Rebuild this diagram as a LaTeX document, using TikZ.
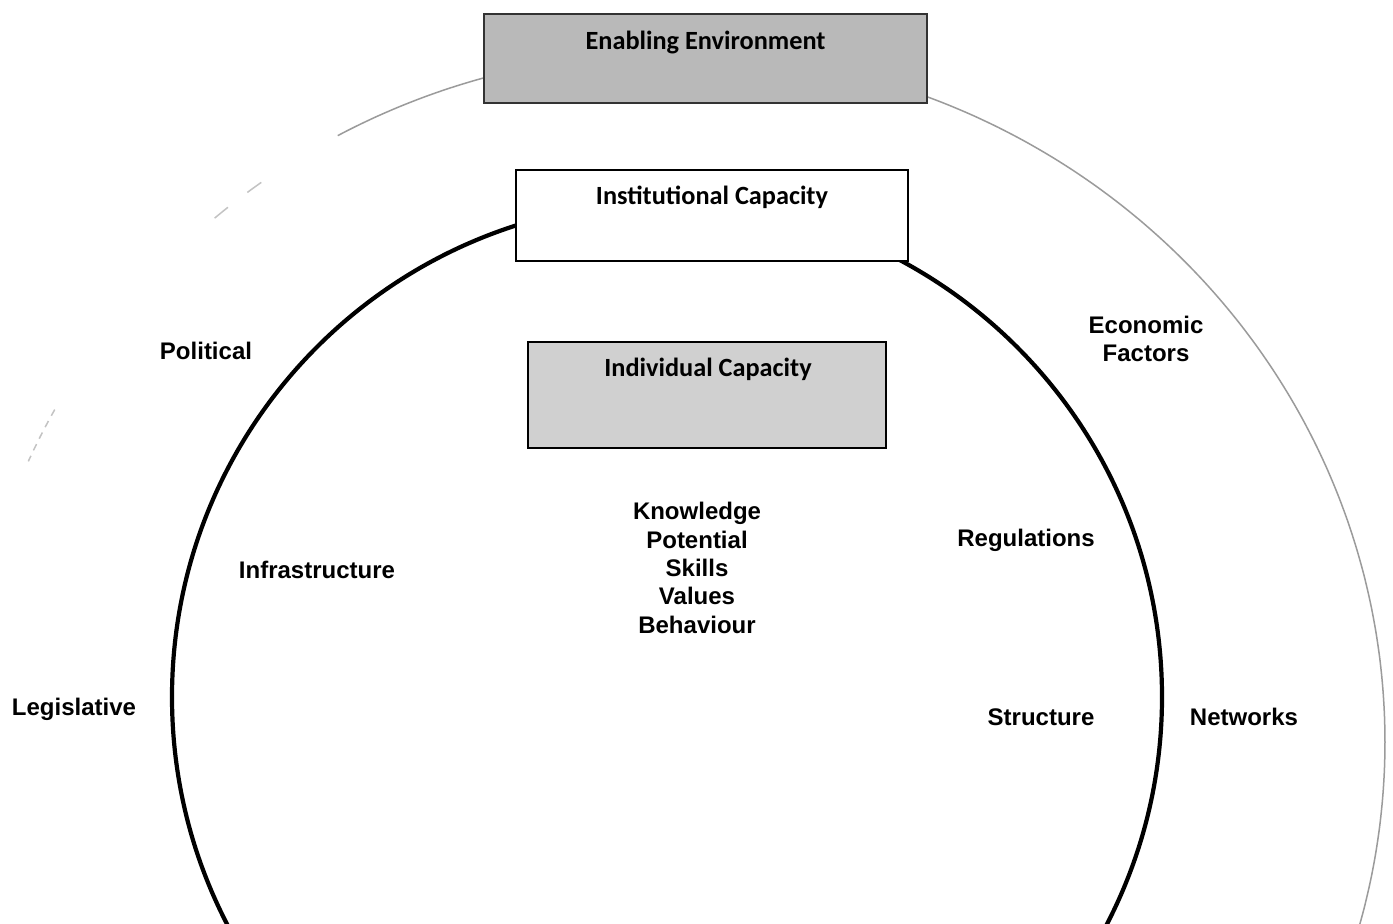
\documentclass[tikz,border=0pt]{standalone}
\usepackage{fontspec}
\setmainfont{Liberation Sans}
\newfontfamily\carl{Carlito}
\definecolor{envgray}{RGB}{185,185,185}
\definecolor{indgray}{RGB}{208,208,208}
\definecolor{ringgray}{RGB}{155,155,155}
\tikzset{
  lbl/.style={font=\fontsize{24}{28.3}\selectfont\bfseries, align=center, inner sep=0pt},
  boxtxt/.style={font=\carl\fontsize{26.3}{30}\selectfont\bfseries, inner sep=0pt},
  box/.style={draw=black, line width=1.6pt, inner sep=0pt},
  ring/.style={draw=black, line width=4.2pt},
  outer/.style={draw=ringgray, line width=1.5pt},
}
\begin{document}
\begin{tikzpicture}[x=1pt,y=-1pt]
\useasboundingbox[fill=white] (0,0) rectangle (1393,924);
\clip (0,0) rectangle (1393,924);
% outer (enabling environment) ring, faint, partly visible
\draw[outer, domain=-69.3:35, samples=150, smooth, variable=\t]
  plot ({676+709*cos(\t)}, {742+690*sin(\t)});
\draw[outer, domain=-105.5:-118.5, samples=20, smooth, variable=\t]
  plot ({676+709*cos(\t)}, {742+690*sin(\t)});
\draw[outer, draw=ringgray!60, domain=-125.8:-127.2, samples=5, variable=\t]
  plot ({676+709*cos(\t)}, {742+690*sin(\t)});
\draw[outer, draw=ringgray!60, domain=-129.2:-130.6, samples=5, variable=\t]
  plot ({676+709*cos(\t)}, {742+690*sin(\t)});
\draw[outer, draw=ringgray!60, dash pattern=on 7pt off 6pt, domain=-151.2:-156, samples=10, variable=\t]
  plot ({676+709*cos(\t)}, {742+690*sin(\t)});
% inner (institutional) circle
\coordinate (cen) at (667,697);
\draw[ring] (cen) circle[radius=495pt];
% boxes
\node[box, fill=envgray, draw=black!80, minimum width=443pt, minimum height=89pt] (env) at (705.5,58.5) {};
\node[boxtxt] (envt) at (705.5,42) {Enabling Environment};
\node[box, fill=white, minimum width=392pt, minimum height=91pt] (inst) at (712,215.5) {};
\node[boxtxt] (instt) at (712,197) {Institutional Capacity};
\node[box, fill=indgray, minimum width=358pt, minimum height=106pt] (ind) at (707,395) {};
\node[boxtxt] (indt) at (708,369) {Individual Capacity};
% labels
\node[lbl] (political) at (206,351) {Political};
\node[lbl] (economic) at (1146,339) {Economic\\Factors};
\node[lbl] (infra) at (317,570) {Infrastructure};
\node[lbl] (indiv) at (697,568) {Knowledge\\Potential\\Skills\\Values\\Behaviour};
\node[lbl] (regs) at (1026,540) {Regulations};
\node[lbl] (legis) at (74,709) {Legislative};
\node[lbl] (struct) at (1041,717) {Structure};
\node[lbl] (networks) at (1244,717) {Networks};
\end{tikzpicture}
\end{document}
